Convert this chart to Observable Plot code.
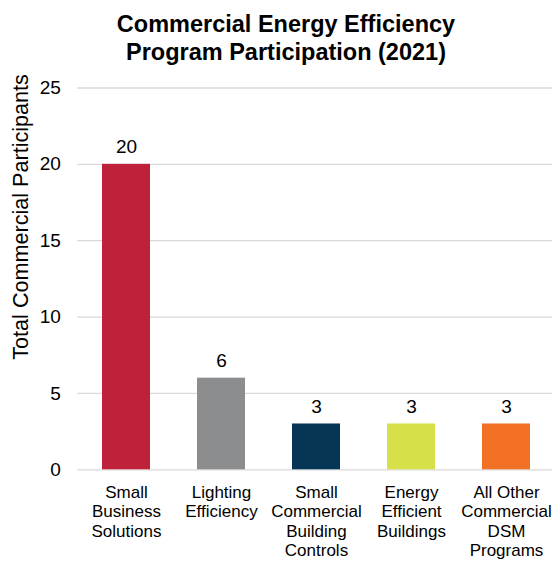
<!DOCTYPE html>
<html>
<head>
<meta charset="utf-8">
<script src="https://cdn.jsdelivr.net/npm/d3@7"></script>
<script src="https://cdn.jsdelivr.net/npm/@observablehq/plot@0.6"></script>
<style>
  html, body { margin: 0; padding: 0; background: #fff; }
  #chart { width: 552px; height: 561px; overflow: hidden; font-family: "Liberation Sans", Arial, sans-serif; }
  #title {
    box-sizing: border-box;
    height: 72px;
    padding: 10px 0 0 20px;
    text-align: center;
    font-size: 23.5px;
    line-height: 28px;
    font-weight: bold;
    color: #000;
  }
  svg { display: block; overflow: visible; }
</style>
</head>
<body>
<div id="chart">
  <div id="title">Commercial Energy Efficiency<br>Program Participation (2021)</div>
</div>
<script>
// Programs, participant counts, and bar colours
const programs = [
  "Small Business Solutions",
  "Lighting Efficiency",
  "Small Commercial Building Controls",
  "Energy Efficient Buildings",
  "All Other Commercial DSM Programs"
];
const programLabels = [
  "Small\nBusiness\nSolutions",
  "Lighting\nEfficiency",
  "Small\nCommercial\nBuilding\nControls",
  "Energy\nEfficient\nBuildings",
  "All Other\nCommercial\nDSM\nPrograms"
];
const participants = [20, 6, 3, 3, 3];
const barColors = ["#C0213A", "#8C8D8E", "#073555", "#D6E048", "#F27124"];
const yTicks = [0, 5, 10, 15, 20, 25];

const data = programs.map((p, i) => ({program: p, label: programLabels[i], value: participants[i]}));

const font = "'Liberation Sans', Arial, sans-serif";

const chart = Plot.plot({
  width: 552,
  height: 489,
  marginTop: 15.5,
  marginBottom: 91.7,
  marginLeft: 77.3,
  marginRight: 0,
  style: {fontFamily: font, fontSize: "19px", color: "#000", background: "#fff", overflow: "visible"},
  x: {domain: programs, range: [77.3, 553.5], paddingInner: 0.5, paddingOuter: 0.25, axis: null},
  y: {domain: [0, 25], ticks: yTicks, label: null},
  color: {domain: programs, range: barColors},
  marks: [
    Plot.gridY(yTicks, {stroke: "#d9d9d9", strokeOpacity: 1, strokeWidth: 1.3}),
    Plot.axisY(yTicks, {tickSize: 0, tickPadding: 17, fontSize: 19, fill: "#000", label: null}),
    Plot.barY(data, {x: "program", y: "value", fill: "program"}),
    Plot.text(data, {x: "program", y: "value", text: d => String(d.value), lineAnchor: "middle", dy: -17, fontSize: 19, fill: "#000"}),
    Plot.text(data, {x: "program", text: "label", frameAnchor: "bottom", lineAnchor: "top", dy: 14.7, lineHeight: 1.135, fontSize: 17, fill: "#000"}),
    Plot.text(["Total Commercial Participants"], {frameAnchor: "left", textAnchor: "middle", lineAnchor: "middle", rotate: -90, dx: -57, dy: -62, fontSize: 21.6, fill: "#000"})
  ]
});

document.getElementById("chart").appendChild(chart);
</script>
</body>
</html>
